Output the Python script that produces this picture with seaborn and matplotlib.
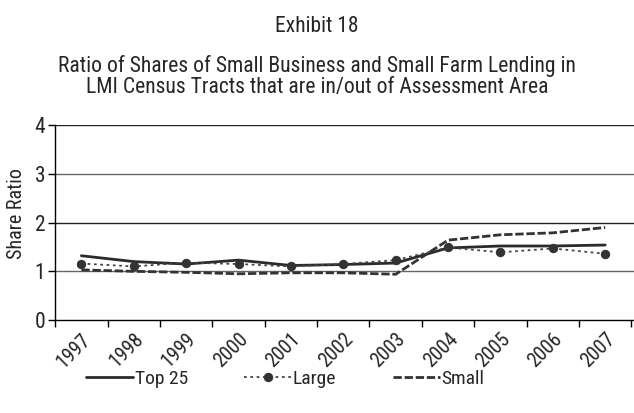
import numpy as np
import pandas as pd
import seaborn as sns
import matplotlib.pyplot as plt

years = ['1997', '1998', '1999', '2000', '2001', '2002', '2003', '2004', '2005', '2006', '2007']
top25 = [1.32, 1.20, 1.15, 1.23, 1.12, 1.14, 1.17, 1.48, 1.52, 1.52, 1.54]
large = [1.16, 1.10, 1.18, 1.15, 1.10, 1.15, 1.23, 1.49, 1.39, 1.47, 1.36]
small = [1.03, 1.00, 0.98, 0.95, 0.97, 0.97, 0.94, 1.64, 1.75, 1.79, 1.90]

sns.set_style('white')
plt.rcParams['font.family'] = ['Roboto Condensed', 'DejaVu Sans']

df = pd.DataFrame({'year': years * 3,
                   'pos': list(range(len(years))) * 3,
                   'ratio': top25 + large + small,
                   'series': ['Top 25'] * 11 + ['Large'] * 11 + ['Small'] * 11})

fig = plt.figure(figsize=(6.34, 4.13), dpi=100)
ax = fig.add_axes([0.087, 0.225, 0.913, 0.472])

ax.axhline(1, color='#666666', lw=1, zorder=0)
ax.axhline(2, color='#222222', lw=1, zorder=0)
ax.axhline(3, color='#666666', lw=1, zorder=0)
ax.axhline(4, color='#222222', lw=1, zorder=0)

d = df[df.series == 'Top 25']
sns.lineplot(data=d, x='pos', y='ratio', ax=ax, color='#2b2b2b', lw=2, label='Top 25')
d = df[df.series == 'Large']
sns.lineplot(data=d, x='pos', y='ratio', ax=ax, color='#444444', lw=1.3,
             linestyle=(0, (1.5, 2)), marker='o', markersize=6,
             markeredgecolor='#333333', markerfacecolor='#333333', label='Large')
d = df[df.series == 'Small']
sns.lineplot(data=d, x='pos', y='ratio', ax=ax, color='#333333', lw=2,
             linestyle=(0, (3, 1)), label='Small')

ax.set_xlim(-0.5, 10.55)
ax.set_ylim(0, 4)
ax.set_yticks([0, 1, 2, 3, 4])
ax.set_xticks(np.arange(-0.5, 10.6, 1))
ax.set_xticklabels([])
ax.set_xticks(range(len(years)), minor=True)
ax.set_xticklabels(years, minor=True, rotation=45, ha='right', rotation_mode='anchor', fontsize=14.5)
ax.tick_params(axis='x', which='minor', length=0, pad=7)
ax.tick_params(axis='x', which='major', direction='out', length=5, width=1, color='black', bottom=True)
ax.tick_params(axis='y', direction='out', length=5, width=1, color='black', left=True, labelsize=15.5, pad=2)
ax.set_xlabel('')
ax.set_ylabel('Share Ratio', fontsize=14.5)
ax.yaxis.set_label_coords(-0.05, 0.545)
for s in ['top', 'right']:
    ax.spines[s].set_visible(False)
for s in ['left', 'bottom']:
    ax.spines[s].set_color('black')
    ax.spines[s].set_linewidth(1)

handles, labels = ax.get_legend_handles_labels()
ax.get_legend().remove()
fig.legend(handles, labels, loc='center', bbox_to_anchor=(0.45, 0.083), ncol=3,
           frameon=False, fontsize=14, handlelength=2.4, handletextpad=0.1, columnspacing=2.9)

fig.text(0.5, 0.935, 'Exhibit 18', ha='center', va='center', fontsize=15.5)
fig.text(0.5, 0.815, 'Ratio of Shares of Small Business and Small Farm Lending in\nLMI Census Tracts that are in/out of Assessment Area',
         ha='center', va='center', fontsize=15.6, linespacing=1.05)

fig.savefig('out.png', dpi=100)
